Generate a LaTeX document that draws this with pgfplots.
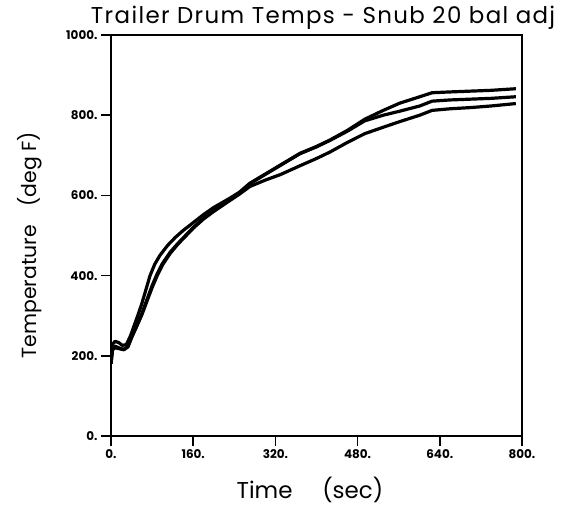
\documentclass[border=0pt]{standalone}
\usepackage{pgfplots}
\pgfplotsset{compat=1.18}
\usepackage{fontspec}
\setmainfont{Poppins}

\begin{document}
\begin{tikzpicture}[x=1bp,y=1bp]
\useasboundingbox (-111,-74) rectangle (463,436);
\begin{axis}[
  at={(0,0)}, anchor=south west,
  width=411bp, height=401bp, scale only axis,
  xmin=0, xmax=800, ymin=0, ymax=1000,
  xtick={0,160,320,480,640,800},
  ytick={0,200,400,600,800,1000},
  xticklabels={0.,160.,320.,480.,640.,800.},
  yticklabels={0.,200.,400.,600.,800.,1000.},
  tick pos=left, tick align=outside,
  major tick length=10bp,
  tick style={black, line width=1.6bp},
  ticklabel style={font=\fontsize{12}{13}\selectfont\bfseries},
  axis line style={line width=1.2bp},
  title={Trailer Drum Temps - Snub 20 bal adj},
  title style={font=\fontsize{23}{26}\selectfont\addfontfeatures{LetterSpace=6}, at={(axis description cs:0.516,1.014)}, anchor=base, yshift=0pt},
  xlabel={Time\hspace{1.3em}(sec)},
  xlabel style={font=\fontsize{23}{26}\selectfont, at={(axis description cs:0.484,-0.135)}, anchor=center},
  ylabel={Temperature\hspace{0.9em}(deg F)},
  ylabel style={font=\fontsize{20.5}{24}\selectfont, at={(axis description cs:-0.197,0.476)}, anchor=center},
  curve/.style={black, mark=none, line width=3.2bp, line join=round},
]
% curve ending highest
\addplot[curve] coordinates {
(0,180)(2,228)(8,236)(15,233)(22,226)(30,228)(38,250)(45,275)(52,300)(60,330)
(68,365)(76,400)(85,428)(95,450)(110,475)(125,495)(140,512)(160,532)(180,552)
(200,570)(230,592)(250,608)(270,630)(300,653)(330,676)(368,705)(400,722)(426,738)
(460,762)(494,790)(530,812)(562,830)(601,846)(625,856)(660,858)(700,860)(740,862)(788,866)
};
% middle curve
\addplot[curve] coordinates {
(0,180)(3,215)(8,220)(15,218)(25,215)(33,222)(40,245)(50,275)(60,305)(70,340)
(80,375)(90,405)(100,430)(115,458)(130,480)(145,500)(160,520)(180,543)(200,562)
(230,588)(250,606)(270,629)(300,652)(330,675)(368,704)(400,721)(426,737)(460,760)
(494,786)(530,800)(562,810)(601,823)(625,835)(660,838)(700,840)(740,842)(788,846)
};
% curve ending lowest
\addplot[curve] coordinates {
(0,180)(3,218)(8,224)(15,220)(25,216)(33,224)(40,246)(50,273)(60,302)(70,336)
(80,370)(90,400)(100,426)(115,455)(130,478)(145,498)(160,518)(180,541)(200,560)
(230,586)(250,603)(270,622)(300,638)(330,652)(368,674)(400,692)(426,708)(460,732)
(494,754)(530,770)(562,784)(601,800)(625,812)(660,816)(700,819)(740,823)(788,829)
};
% heavier bottom axis line
\draw[line width=2.6bp] (rel axis cs:0,0) -- (rel axis cs:1,0);
\end{axis}
\end{tikzpicture}
\end{document}
